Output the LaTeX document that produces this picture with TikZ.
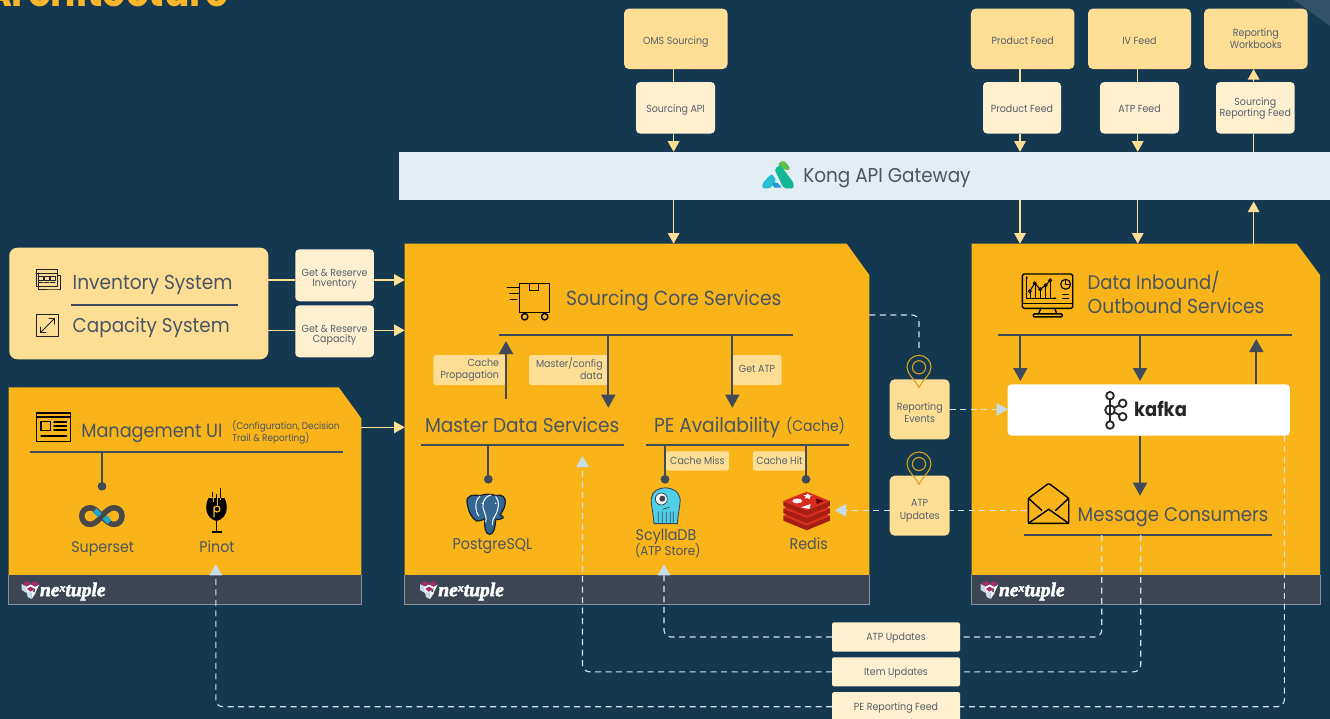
\documentclass[tikz,border=0pt]{standalone}
\usepackage{fontspec}
\setmainfont[FakeStretch=0.92]{Poppins}
\newfontfamily\nxfont[BoldItalicFeatures={FakeBold=2.5}]{Liberation Serif}
\usetikzlibrary{arrows.meta,calc}
\definecolor{bgc}{HTML}{14384F}
\definecolor{orangec}{HTML}{F8B418}
\definecolor{lightc}{HTML}{FEDE95}
\definecolor{paleC}{HTML}{FFF0CF}
\definecolor{kongc}{HTML}{E3EDF5}
\definecolor{footc}{HTML}{3C4652}
\definecolor{inkc}{HTML}{4A5562}
\definecolor{smallc}{HTML}{56606C}
\definecolor{arrowc}{HTML}{3F4B5A}
\definecolor{feedc}{HTML}{FEDE95}
\definecolor{dashc}{HTML}{D3E3EA}
\definecolor{tipc}{HTML}{C6DCE8}
\definecolor{titlec}{HTML}{FBB62C}
\definecolor{pinc}{HTML}{D9A21E}
\definecolor{pgblue}{HTML}{336791}
\definecolor{pgedge}{HTML}{1B2430}
\definecolor{scyc}{HTML}{4FD0E8}
\definecolor{redtop}{HTML}{D82C20}
\definecolor{redside}{HTML}{A41E11}
\definecolor{kgreen}{HTML}{5FC04B}
\definecolor{kteal}{HTML}{14B795}
\definecolor{kcyan}{HTML}{27BFD6}
\definecolor{kblue}{HTML}{1E9AD6}
\definecolor{nxpink}{HTML}{A92A68}
\definecolor{ssgray}{HTML}{484848}
\definecolor{sscyan}{HTML}{20A7C9}
\newcommand{\fsz}[2]{\fontsize{#1}{#2}\selectfont}
\newcommand{\dn}[2]{\raisebox{-#1pt}[\height][\depth]{\begin{tabular}{@{}c@{}}#2\end{tabular}}}
\newcommand{\dnr}[2]{\raisebox{-#1pt}[\height][\depth]{\begin{tabular}{@{}r@{}}#2\end{tabular}}}
\tikzset{
  x=1pt,y=-1pt,
  every node/.style={inner sep=0pt,outer sep=0pt},
  txt/.style={font=\fsz{#1}{24},text=inkc,anchor=west,text height=#1*0.7pt,text depth=0pt},
  heading/.style={txt=20.4},
  mid/.style={font=\fsz{15.5}{18},text=inkc,text height=10.85pt,text depth=0pt},
  small/.style={font=\fsz{10.3}{12},text=smallc,align=center},
  topbox/.style={fill=lightc,rounded corners=5pt,small},
  palebox/.style={fill=paleC,rounded corners=4pt,small},
  labbox/.style={fill=lightc,rounded corners=2.5pt,small},
  anch/.style={minimum width=1pt,minimum height=1pt},
  feed/.style={draw=feedc,line width=1.2pt},
  feedtip/.style={feed,-{Triangle[length=10.5pt,width=11.5pt,fill=feedc]}},
  dark/.style={draw=arrowc,line width=1.9pt},
  darktip/.style={dark,-{Triangle[length=13pt,width=14pt,fill=arrowc]}},
  darkdot/.style={dark,-{Circle[length=8.6pt,width=8.6pt,fill=arrowc]}},
  rule/.style={draw=arrowc,line width=1.7pt},
  dline/.style={draw=dashc,line width=1.1pt,dash pattern=on 6pt off 4.5pt,rounded corners=7pt},
  dlinetip/.style={dline,-{Triangle[length=11pt,width=12.5pt,fill=tipc,color=tipc]}},
  ico/.style={draw=black,line width=1.4pt,line join=round,line cap=round},
}
\newcommand{\panel}[7]{% name x0 y0 x1 cutx cuty logox
  \fill[orangec] (#2,#3) -- (#5,#3) -- (#4,#6) -- (#4,575.3) -- (#2,575.3) -- cycle;
  \fill[footc] (#2,575.3) rectangle (#4,604.3);
  \draw[draw=white!40!footc,line width=.5pt] (#2,575.3) -- (#2,604.3) -- (#4,604.3) -- (#4,575.3);
  \node[anch,minimum width={#4-#2},minimum height={604.3-#3}] (#1) at ({(#2+#4)/2},{(#3+604.3)/2}) {};
  \begin{scope}[shift={(#7,581)}]
    \fill[tipc] (0,3) -- (5,5.5) -- (5,12) -- (0,9) -- cycle;
    \fill[white] (4,6) -- (9,3.5) -- (14,6) -- (9.5,12) -- (5,12) -- cycle;
    \fill[tipc] (5,12) -- (9.5,9.5) -- (10,18) -- (6,16) -- cycle;
    \fill[white!70!tipc] (10,18) -- (9.5,9.5) -- (14,12) -- cycle;
    \fill[nxpink] (1,2.8) -- (5,0) -- (9,2.8) -- (5,5.4) -- cycle;
    \fill[nxpink] (9,2.8) -- (13,0) -- (17,2.8) -- (13,5.4) -- cycle;
    \fill[nxpink] (5,8) -- (9,5.6) -- (13,8) -- (9,10.6) -- cycle;
    \fill[white] (13.5,6) -- (17.5,3.6) -- (13,13) -- cycle;
  \end{scope}
  \node[anchor=west,text=white,font={\nxfont\bfseries\itshape\fsz{19.5}{19.5}}] (#1logo) at (#7+18.3,591.5) {ne\raisebox{4.5pt}{\fsz{12}{12}x}tuple};
}
\newcommand{\pin}[2]{% center x, circle centre y
  \begin{scope}[shift={(#1,#2)}]
    \draw[pinc,line width=1.1pt,line join=round] (0,20.4) .. controls (-4,12) and (-12,7) .. (-12,0)
      .. controls (-12,-6.6) and (-6.6,-12) .. (0,-12) .. controls (6.6,-12) and (12,-6.6) .. (12,0)
      .. controls (12,7) and (4,12) .. (0,20.4) -- cycle;
    \draw[pinc,line width=1.1pt] (0,0) circle (6.6);
  \end{scope}
}
\begin{document}
\begin{tikzpicture}
\useasboundingbox (0,0) rectangle (1330,719);
\fill[bgc] (0,0) rectangle (1330,719);
\fill[white!13!bgc] (1294,0) -- (1330,0) -- (1330,26) -- cycle;
\node[anchor=base east,text=titlec,font={\bfseries\fsz{41}{41}}] (title) at (229,7) {Architecture};

% ---------- panels
\panel{mgmt}{8.7}{387.3}{361.3}{338.7}{418.3}{21.7}
\panel{core}{404.7}{243.7}{869.3}{846.7}{275}{420}
\panel{data}{971.7}{243.7}{1320}{1296.7}{275}{980.7}

% ---------- gateway and top boxes
\node[fill=kongc,minimum width=931,minimum height=48.3] (kong) at (864.5,175.9) {};
\node[txt=20] (kongt) at (803.4,175.5) {Kong API Gateway};
\node[topbox,minimum width=103.6,minimum height=60.5] (oms) at (675.8,38.8) {\dn{3.4}{OMS Sourcing}};
\node[topbox,minimum width=103.5,minimum height=60.5] (pfeed) at (1022.7,38.8) {\dn{3.4}{Product Feed}};
\node[topbox,minimum width=103,minimum height=60.5] (ivf) at (1139.5,38.8) {\dn{3.4}{IV Feed}};
\node[topbox,minimum width=103.6,minimum height=60.5] (wbk) at (1255.8,38.8) {\dn{1.6}{Reporting\\Workbooks}};
\node[palebox,minimum width=79,minimum height=51.5] (sapi) at (675.5,107.8) {\dn{2.1}{Sourcing API}};
\node[palebox,minimum width=78,minimum height=51.5] (pf2) at (1022,107.8) {\dn{2.1}{Product Feed}};
\node[palebox,minimum width=79,minimum height=51.5] (atpf) at (1139.5,107.8) {\dn{2.1}{ATP Feed}};
\node[palebox,minimum width=78.6,minimum height=51.5,font=\fsz{10.3}{10}] (srf) at (1255.3,107.8) {\dn{1.1}{Sourcing\\Reporting Feed}};
\coordinate (ax1) at (673.6,0);
\coordinate (ax2) at (1020,0);
\coordinate (ax3) at (1137.7,0);
\coordinate (ax4) at (1253.6,0);
\draw[feed] (oms.south -| ax1) -- (sapi.north -| ax1);
\draw[feedtip] (sapi.south -| ax1) -- (kong.north -| ax1);
\draw[feedtip] (kong.south -| ax1) -- (core.north -| ax1);
\draw[feed] (pfeed.south -| ax2) -- (pf2.north -| ax2);
\draw[feedtip] (pf2.south -| ax2) -- (kong.north -| ax2);
\draw[feedtip] (kong.south -| ax2) -- (data.north -| ax2);
\draw[feed] (ivf.south -| ax3) -- (atpf.north -| ax3);
\draw[feedtip] (atpf.south -| ax3) -- (kong.north -| ax3);
\draw[feedtip] (kong.south -| ax3) -- (data.north -| ax3);
\draw[feedtip] (data.north -| ax4) -- ([yshift=-1.5pt]kong.south -| ax4);
\draw[feed] (kong.north -| ax4) -- (srf.south -| ax4);
\draw[feedtip] (srf.north -| ax4) -- (wbk.south -| ax4);

% ---------- kong logo
\begin{scope}[shift={(755,155)},x=.3333pt,y=-.3333pt]
  \fill[kgreen,rounded corners=2pt] (68,28) -- (84,15) -- (103,33) -- (105,45) -- (88,45) -- cycle;
  \fill[kteal,rounded corners=2pt] (58,42) -- (76,30) -- (116,84) -- (116,100) -- (86,100) -- cycle;
  \fill[kcyan,rounded corners=2pt] (22,100) -- (22,85) -- (50,56) -- (65,76) -- (46,100) -- cycle;
  \fill[kblue] (50,84) -- (68,84) -- (80,98) -- (58,98) -- cycle;
\end{scope}

% ---------- inventory / capacity
\node[fill=lightc,rounded corners=8pt,minimum width=259,minimum height=111.6] (inv) at (138.8,303.5) {};
\node[txt=20.2] (invt) at (72.7,282.5) {Inventory System};
\node[txt=20] (capt) at (72.7,325.8) {Capacity System};
\coordinate (d1) at (71,305); \coordinate (d2) at (238,305);
\draw[rule] (d1) -- (d2);
\begin{scope}[shift={(35,270)},ico/.append style={draw=inkc!40!black,line width=1pt}]
  \draw[ico] (3.5,3) -- (3.5,20) -- (22,20) -- (25.5,20) -- (25.5,6) -- (22.5,6);
  \draw[ico] (1,0) rectangle (22.5,16.5);
  \draw[ico] (1,4) -- (22.5,4);
  \draw[ico,line width=.8pt] (3.5,6.5) rectangle (8,10) (9.5,6.5) rectangle (14,10) (15.5,6.5) rectangle (20,10);
  \draw[ico,line width=1pt] (3.5,12.5) -- (8,12.5) (9.5,12.5) -- (14,12.5) (15.5,12.5) -- (20,12.5);
\end{scope}
\begin{scope}[shift={(36,314)},ico/.append style={draw=inkc!40!black,line width=1pt}]
  \draw[ico] (0.5,0.5) rectangle (22.5,22.5);
  \draw[ico] (4.5,18.5) -- (18.5,4.5);
  \draw[ico] (4.5,13) -- (4.5,18.5) -- (10,18.5);
  \draw[ico] (13,4.5) -- (18.5,4.5) -- (18.5,10);
\end{scope}
\node[palebox,minimum width=78.7,minimum height=52,font=\fsz{10.3}{9.7}] (grinv) at (334.6,275.3) {\dn{3.9}{Get \& Reserve\\Inventory}};
\node[palebox,minimum width=78.7,minimum height=52,font=\fsz{10.3}{9.7}] (grcap) at (334.6,331.3) {\dn{3.9}{Get \& Reserve\\Capacity}};
\coordinate (y1) at (0,280);
\coordinate (y2) at (0,330.3);
\coordinate (y3) at (0,427.3);
\draw[feed] (inv.east |- y1) -- (grinv.west |- y1);
\draw[feedtip] (grinv.east |- y1) -- (core.west |- y1);
\draw[feed] (inv.east |- y2) -- (grcap.west |- y2);
\draw[feedtip] (grcap.east |- y2) -- (core.west |- y2);
\draw[feedtip] (mgmt.east |- y3) -- (core.west |- y3);

% ---------- management UI
\node[txt=19.2] (mgt) at (81.3,430.8) {Management UI};
\node[font=\fsz{9.7}{11.3},text=inkc,anchor=west,align=left] (mgs) at (232.3,432.3) {(Configuration, Decision\\Trail \& Reporting)};
\coordinate (ml1) at (30.3,452); \coordinate (ml2) at (343,452);
\draw[rule] (ml1) -- (ml2);
\coordinate (ssv) at (102,452); \coordinate (ssd) at (102,490.6);
\draw[darkdot] (ssv) -- (ssd);
\begin{scope}[shift={(36,412.3)}]
  \draw[ico] (0.7,0.7) rectangle (34.3,29.3);
  \draw[ico] (0.7,4.5) -- (34.3,4.5);
  \draw[ico] (5,9) rectangle (14.5,18);
  \draw[ico] (18,9.5) -- (30.5,9.5) (18,13.5) -- (30.5,13.5) (18,17.5) -- (30.5,17.5);
  \draw[ico] (5,23.5) -- (30.5,23.5);
\end{scope}
\begin{scope}
  \draw[line width=5.5pt,draw=ssgray]
   (102,516) .. controls (96,509.5) and (93,507.8) .. (90,507.8)
   .. controls (85,507.8) and (81.8,511.5) .. (81.8,516) .. controls (81.8,520.5) and (85,524.4) .. (90,524.4)
   .. controls (93,524.4) and (97,522.5) .. (102,516)
   .. controls (107,509.5) and (111,507.8) .. (114,507.8)
   .. controls (119,507.8) and (122,511.5) .. (122,516) .. controls (122,520.5) and (119,524.4) .. (114,524.4)
   .. controls (111,524.4) and (107,522.5) .. (102,516) -- cycle;
  \draw[line width=5.5pt,draw=sscyan] (94.8,510.2) -- (99.8,515.2) (104.5,517) -- (109.5,522);
\end{scope}
\node[mid] (sst) at (102.7,546.7) {Superset};
\begin{scope}[shift={(205,488)}]
  \fill[black] (3.5,10) -- (19.5,10) .. controls (23.5,18) and (23,30) .. (11.5,33) .. controls (0,30) and (-0.5,18) .. (3.5,10) -- cycle;
  \draw[black,line width=1.3pt] (11.5,33) -- (11.5,43);
  \draw[black,line width=1.5pt] (6.5,44) -- (16.5,44);
  \draw[orangec,line width=1pt] (8,9) -- (8,14) (12,6) -- (12,17) (15,3) -- (15,12);
  \draw[black,line width=1pt] (7,4) -- (7,9) (11,6) -- (11,11) (15,0) -- (15,10);
  \draw[orangec,line width=1.2pt] (12,21) circle (3) (9,19) -- (9,29);
\end{scope}
\node[mid] (pin) at (217,546.7) {Pinot};

% ---------- sourcing core
\node[heading] (scs) at (566,298.8) {Sourcing Core Services};
\coordinate (sl1) at (498.7,335); \coordinate (sl2) at (792.7,335);
\draw[rule] (sl1) -- (sl2);
\begin{scope}[shift={(506.7,282.7)}]
  \draw[ico] (13,0.7) rectangle (43,30);
  \draw[ico] (23,0.7) -- (23,8) -- (32,8) -- (32,0.7);
  \draw[ico] (0.5,5) -- (12,5) (3,11) -- (12,11) (3.5,17) -- (10,17);
  \draw[ico,fill=orangec] (18,34) circle (3.2) (38,34) circle (3.2);
\end{scope}
\node[labbox,minimum width=72.7,minimum height=30,text width=58.7,inner xsep=7,align=right] (lcp) at (469.7,370) {\dnr{.5}{Cache\\Propagation}};
\node[labbox,minimum width=79.3,minimum height=30,text width=65.3,inner xsep=7,align=right] (lmc) at (568.7,370) {\dnr{.5}{Master/config\\data}};
\node[labbox,minimum width=49.4,minimum height=30] (lga) at (757,370) {\dn{0}{Get ATP}};
\node[txt=20.1] (mds) at (425,425.3) {Master Data Services};
\node[txt=20.2] (pea) at (654,425.3) {PE Availability};
\node[txt=15.2] (pec) at (786,426.5) {(Cache)};
\coordinate (ml3) at (421,445.3); \coordinate (ml4) at (624,445.3);
\coordinate (ml5) at (646,445.3); \coordinate (ml6) at (849.3,445.3);
\draw[rule] (ml3) -- (ml4);
\draw[rule] (ml5) -- (ml6);
\coordinate (ca0) at (506,399); \coordinate (ca1) at (506,341);
\draw[darktip] (ca0) -- (ca1);
\coordinate (mc0) at (608.3,335); \coordinate (mc1) at (608.3,407.7);
\draw[darktip] (mc0) -- (mc1);
\coordinate (ga0) at (732.3,335); \coordinate (ga1) at (732.3,407.7);
\draw[darktip] (ga0) -- (ga1);
\node[labbox,minimum width=63.3,minimum height=19.4] (lcm) at (697.4,461) {\dn{1.2}{Cache Miss}};
\node[labbox,minimum width=53.3,minimum height=19.4] (lch) at (779.4,461) {\dn{1.2}{Cache Hit}};
\coordinate (pg0) at (488.3,445.3); \coordinate (pg1) at (488.3,483.6);
\draw[darkdot] (pg0) -- (pg1);
\coordinate (sc0) at (665,445.3); \coordinate (sc1) at (665,483.6);
\draw[darkdot] (sc0) -- (sc1);
\coordinate (rd0) at (806,445.3); \coordinate (rd1) at (806,483.6);
\draw[darkdot] (rd0) -- (rd1);
% postgres elephant
\begin{scope}[shift={(455,485)},x=.3333pt,y=-.3333pt]
  \fill[pgblue,draw=pgedge,line width=1.3pt,line join=round] (36,52) .. controls (34,30) and (55,28) .. (75,32) .. controls (90,26) and (110,26) .. (122,32) .. controls (140,26) and (155,35) .. (150,58) .. controls (148,72) and (140,82) .. (135,90) .. controls (150,95) and (150,102) .. (122,104) .. controls (120,125) and (118,148) .. (104,148) .. controls (90,148) and (88,125) .. (90,100) .. controls (80,105) and (75,110) .. (65,108) .. controls (50,100) and (40,80) .. (36,52) -- cycle;
  \draw[white,line width=1pt] (75,34) .. controls (58,45) and (60,80) .. (72,94) (108,30) .. controls (85,35) and (78,60) .. (88,80) .. controls (92,90) and (95,100) .. (92,112) (122,34) .. controls (136,50) and (130,78) .. (118,96) .. controls (114,100) and (112,112) .. (112,120);
  \fill[white] (82,55) circle (2.5) (122,55) circle (2.5);
\end{scope}
\node[mid] (pgt) at (492.5,544.2) {PostgreSQL};
% scylla
\begin{scope}[shift={(640,480)},x=.3333pt,y=-.3333pt]
  \fill[scyc,draw=footc,line width=.9pt] (42,131) .. controls (40,100) and (32,70) .. (34,55) .. controls (38,13) and (114,13) .. (120,55) .. controls (122,70) and (114,100) .. (112,131) -- cycle;
  \fill[white,draw=footc,line width=.8pt] (64,57) circle (18);
  \fill[footc] (67,56) circle (9);
  \draw[footc,line width=.7pt] (55,95) -- (55,128) (67,95) -- (67,128) (79,95) -- (79,128) (91,95) -- (91,128) (100,95) -- (100,128) (68,88) -- (88,82);
\end{scope}
\node[mid] (sct) at (666,535.5) {ScyllaDB};
\node[txt=12.8,anchor=center] (sct2) at (667.7,551) {(ATP Store)};
% redis
\begin{scope}[shift={(640,480)},x=.3333pt,y=-.3333pt]
  \foreach \dy in {44,22,0}{
    \fill[redside] (430,63+\dy) -- (500,92+\dy) -- (570,63+\dy) -- (570,78+\dy) -- (500,107+\dy) -- (430,78+\dy) -- cycle;
    \fill[redtop] (430,63+\dy) -- (500,35+\dy) -- (570,63+\dy) -- (500,92+\dy) -- cycle;
  }
  \fill[white] (472,63) ellipse (15 and 7);
  \fill[white] (503,40) -- (508,46) -- (516,47) -- (509,51) -- (510,58) -- (502,54) -- (495,56) -- (497,49) -- (490,45) -- (499,45) -- cycle;
  \fill[white] (483,82) -- (512,72) -- (508,87) -- cycle;
  \fill[red!40!black] (528,55) -- (552,63) -- (530,72) -- cycle;
\end{scope}
\node[mid] (rdt) at (808.7,544.2) {Redis};

% ---------- data panel
\node[txt=19.6] (dt1) at (1087.7,282.8) {Data Inbound/};
\node[txt=20.3] (dt2) at (1087.7,306.2) {Outbound Services};
\coordinate (dl1) at (997.7,335); \coordinate (dl2) at (1292.3,335);
\draw[rule] (dl1) -- (dl2);
\begin{scope}[shift={(1021.7,273.3)}]
  \draw[ico,rounded corners=1.5pt] (0.7,0.7) rectangle (51,35);
  \draw[ico] (0.7,30) -- (51,30);
  \draw[ico] (19,35) -- (17,40.5) (33,35) -- (35,40.5);
  \draw[ico,rounded corners=1pt] (11.5,40.5) rectangle (40.5,43.5);
  \draw[ico,line width=1pt,-{Stealth[length=3pt]}] (5,25) -- (5,2.5);
  \draw[ico,line width=1pt,-{Stealth[length=3pt]}] (5,25) -- (35,25);
  \draw[ico,line width=1pt] (9,25) -- (9,17) (14,25) -- (14,11) (19,25) -- (19,17) (24,25) -- (24,13) (29,25) -- (29,8);
  \draw[ico,line width=1pt] (8,18) -- (13,10) -- (18.5,16) -- (24,12) -- (28.5,7);
  \foreach \p in {(8,18),(13,10),(18.5,16),(24,12),(28.5,7)} \draw[black,line width=.9pt] \p circle (1.5);
  \draw[ico,line width=1.1pt] (44,11) circle (5);
  \draw[ico,line width=1pt] (44,11) -- (44,6) (44,11) -- (48,11);
  \draw[ico,line width=1pt] (41,21) -- (47,21) (41,25) -- (47,25);
\end{scope}
\node[fill=white,rounded corners=4pt,minimum width=282.3,minimum height=51.4] (kafka) at (1148.8,410) {};
\node[font={\bfseries\fsz{19.5}{20}},text=black!85,anchor=west] (kaft) at (1134,409) {kafka};
\begin{scope}[draw=black!85,line width=1.8pt]
  \draw (1110,399.5) -- (1110,421.3) (1114,408) -- (1119.5,405) (1114,412.3) -- (1119.5,415);
  \draw (1110,395.7) circle (3.8) (1110,410) circle (4.8) (1110,425) circle (3.8) (1122.7,403.3) circle (3.8) (1122.7,416.7) circle (3.8);
\end{scope}
\coordinate (da1) at (1020.3,335); \coordinate (da2) at (1140,335); \coordinate (da3) at (1256.3,335);
\coordinate (ka) at (0,381);
\draw[darktip] (da1) -- (da1 |- ka);
\draw[darktip] (da2) -- (da2 |- ka);
\draw[darktip] (da3 |- kafka.north) -- ([yshift=-4pt]da3);
\coordinate (mg1) at (1140,495.7);
\draw[darktip] (da2 |- kafka.south) -- (mg1);
\begin{scope}[shift={(1027.7,482.3)}]
  \draw[ico,rounded corners=1.2pt] (0.7,16) -- (0.7,41) -- (41,41) -- (41,16) -- (21,1) -- cycle;
  \draw[ico] (0.7,16) -- (14,28) (41,16) -- (28,28);
  \draw[ico] (0.7,41) -- (21,27) -- (41,41);
\end{scope}
\node[txt=19.7] (msg) at (1077.7,514.2) {Message Consumers};
\coordinate (ms1) at (1023.7,535); \coordinate (ms2) at (1272.3,535);
\draw[rule] (ms1) -- (ms2);

% ---------- event boxes between panels
\node[topbox,minimum width=60,minimum height=60,font=\fsz{10.3}{12.6}] (revt) at (919.7,409.3) {\dn{4.8}{Reporting\\Events}};
\node[topbox,minimum width=60,minimum height=60,font=\fsz{10.3}{12.6}] (atpu) at (919.7,505.7) {\dn{5}{ATP\\Updates}};
\pin{919}{367.3}
\pin{919}{464}
\coordinate (coreout) at (869.3,315);
\coordinate (pintop) at (919,350.7);
\draw[dline] (coreout) -| (pintop);
\coordinate (ky) at (0,409.3);
\draw[dlinetip] (revt.east |- ky) -- (kafka.west |- ky);
\coordinate (ey) at (0,510.3);
\coordinate (envl) at (1027,510.3);
\coordinate (redisin) at (835,510.3);
\draw[dline] (envl) -- (atpu.east |- ey);
\draw[dlinetip] (atpu.west |- ey) -- (redisin);

% ---------- bottom boxes
\node[palebox,rounded corners=1.5pt,minimum width=128,minimum height=29.4] (b1) at (896,637) {\dn{1.2}{ATP Updates}};
\node[palebox,rounded corners=1.5pt,minimum width=128,minimum height=29] (b2) at (896,671.8) {\dn{1.2}{Item Updates}};
\node[palebox,rounded corners=1.5pt,minimum width=128,minimum height=29.4] (b3) at (896,706.7) {\dn{1.2}{PE Reporting Feed}};
\coordinate (m1) at (1101.7,535);
\coordinate (m2) at (1140.7,535);
\coordinate (m3) at (1284.4,435.7);
\coordinate (scin) at (664,564.3);
\coordinate (mdin) at (582.5,456);
\coordinate (piin) at (215.8,564.3);
\draw[dline] (m1) |- (b1.east);
\draw[dlinetip] (b1.west) -| (scin);
\draw[dline] (m2) |- (b2.east);
\draw[dlinetip] (b2.west) -| (mdin);
\draw[dline] (m3) |- (b3.east);
\draw[dlinetip] (b3.west) -| (piin);
\end{tikzpicture}
\end{document}
